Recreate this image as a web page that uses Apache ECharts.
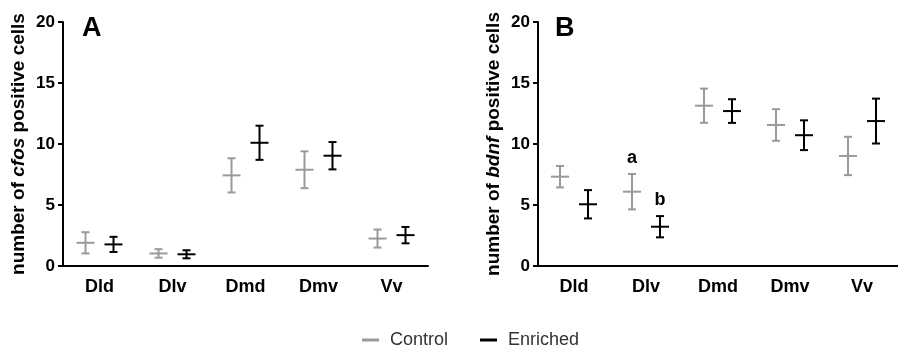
<!DOCTYPE html>
<html>
<head>
<meta charset="utf-8">
<script src="https://cdn.jsdelivr.net/npm/echarts@6/dist/echarts.min.js"></script>
<style>
  html, body { margin: 0; padding: 0; background: #fff; }
  #chart { width: 898px; height: 351px; }
</style>
</head>
<body>
<div id="chart"></div>
<script>
const categories = ['Dld', 'Dlv', 'Dmd', 'Dmv', 'Vv']
const yTicks = [0, 5, 10, 15, 20]

// panel A: cfos
const cfosControlMean = [1.9, 1.03, 7.43, 7.89, 2.25]
const cfosControlSem = [0.87, 0.35, 1.4, 1.51, 0.74]
const cfosEnrichedMean = [1.77, 0.96, 10.1, 9.04, 2.53]
const cfosEnrichedSem = [0.62, 0.33, 1.4, 1.12, 0.67]

// panel B: bdnf
const bdnfControlMean = [7.32, 6.09, 13.14, 11.56, 9.02]
const bdnfControlSem = [0.88, 1.45, 1.4, 1.3, 1.57]
const bdnfEnrichedMean = [5.06, 3.22, 12.7, 10.72, 11.88]
const bdnfEnrichedSem = [1.16, 0.87, 0.97, 1.22, 1.84]
const bdnfControlNotes = ['', 'a', '', '', '']
const bdnfEnrichedNotes = ['', 'b', '', '', '']

const grey = '#9a9a9a'
const black = '#000'

function toData (mean, sem) {
  return mean.map((m, i) => [i, m, sem[i]])
}

// draws mean +/- sem as a cross with caps
function errorBar (offset, color, notes) {
  return function (params, api) {
    const cat = api.value(0)
    const mean = api.value(1)
    const sem = api.value(2)
    const mid = api.coord([cat, mean])
    const hi = api.coord([cat, mean + sem])
    const lo = api.coord([cat, mean - sem])
    const x = mid[0] + offset
    const style = { stroke: color, lineWidth: 2 }
    const children = [
      { type: 'line', shape: { x1: x, y1: hi[1], x2: x, y2: lo[1] }, style },
      { type: 'line', shape: { x1: x - 4, y1: hi[1], x2: x + 4, y2: hi[1] }, style },
      { type: 'line', shape: { x1: x - 4, y1: lo[1], x2: x + 4, y2: lo[1] }, style },
      { type: 'line', shape: { x1: x - 9, y1: mid[1], x2: x + 9, y2: mid[1] }, style }
    ]
    const note = notes && notes[params.dataIndex]
    if (note) {
      children.push({
        type: 'text',
        style: {
          text: note,
          x: x,
          y: hi[1] - 16,
          align: 'center',
          verticalAlign: 'middle',
          fontSize: 18,
          fontWeight: 'bold',
          fontFamily: 'Liberation Sans',
          fill: '#000'
        }
      })
    }
    return { type: 'group', children }
  }
}

function makeX (gridIndex) {
  return {
    type: 'category',
    gridIndex,
    data: categories,
    axisLine: { lineStyle: { color: '#000', width: 2 } },
    axisTick: { alignWithLabel: true, length: 5, lineStyle: { color: '#000', width: 2 } },
    axisLabel: { color: '#000', fontSize: 18, fontWeight: 'bold', fontFamily: 'Liberation Sans', margin: 12 }
  }
}

function makeY (gridIndex, gene) {
  return {
    type: 'value',
    gridIndex,
    min: yTicks[0],
    max: yTicks[yTicks.length - 1],
    interval: 5,
    name: '{n|number of }{i|' + gene + '}{n| positive cells}',
    nameLocation: 'middle',
    nameRotate: 90,
    nameGap: 35,
    nameTextStyle: {
      rich: {
        n: { fontSize: 19, fontWeight: 'bold', fontFamily: 'Liberation Sans', color: '#000' },
        i: { fontSize: 19, fontWeight: 'bold', fontStyle: 'italic', fontFamily: 'Liberation Sans', color: '#000' }
      }
    },
    splitLine: { show: false },
    axisLine: { show: true, lineStyle: { color: '#000', width: 2 } },
    axisTick: { show: true, length: 5, lineStyle: { color: '#000', width: 2 } },
    axisLabel: { color: '#000', fontSize: 17, fontWeight: 'bold', fontFamily: 'Liberation Sans', margin: 8 }
  }
}

const chart = echarts.init(document.getElementById('chart'))

chart.setOption({
  animation: false,
  title: [
    { text: 'A', left: 82, top: 15, padding: 0, textStyle: { fontSize: 27, fontWeight: 'bold', fontFamily: 'Liberation Sans', color: '#000' } },
    { text: 'B', left: 555, top: 15, padding: 0, textStyle: { fontSize: 27, fontWeight: 'bold', fontFamily: 'Liberation Sans', color: '#000' } }
  ],
  legend: {
    data: ['Control', 'Enriched'],
    left: 362,
    top: 331,
    padding: 0,
    icon: 'rect',
    itemWidth: 17,
    itemHeight: 3,
    itemGap: 32,
    textStyle: { fontSize: 18, fontFamily: 'Liberation Sans', color: '#333', padding: [0, 0, 0, 6] }
  },
  grid: [
    { left: 63, top: 22, width: 365, height: 244 },
    { left: 538, top: 22, width: 365, height: 244 }
  ],
  xAxis: [makeX(0), makeX(1)],
  yAxis: [makeY(0, 'cfos'), makeY(1, 'bdnf')],
  series: [
    {
      name: 'Control', type: 'custom', xAxisIndex: 0, yAxisIndex: 0,
      itemStyle: { color: grey },
      renderItem: errorBar(-14, grey),
      data: toData(cfosControlMean, cfosControlSem)
    },
    {
      name: 'Enriched', type: 'custom', xAxisIndex: 0, yAxisIndex: 0,
      itemStyle: { color: black },
      renderItem: errorBar(14, black),
      data: toData(cfosEnrichedMean, cfosEnrichedSem)
    },
    {
      name: 'Control', type: 'custom', xAxisIndex: 1, yAxisIndex: 1,
      itemStyle: { color: grey },
      renderItem: errorBar(-14, grey, bdnfControlNotes),
      data: toData(bdnfControlMean, bdnfControlSem)
    },
    {
      name: 'Enriched', type: 'custom', xAxisIndex: 1, yAxisIndex: 1,
      itemStyle: { color: black },
      renderItem: errorBar(14, black, bdnfEnrichedNotes),
      data: toData(bdnfEnrichedMean, bdnfEnrichedSem)
    }
  ]
})
</script>
</body>
</html>
